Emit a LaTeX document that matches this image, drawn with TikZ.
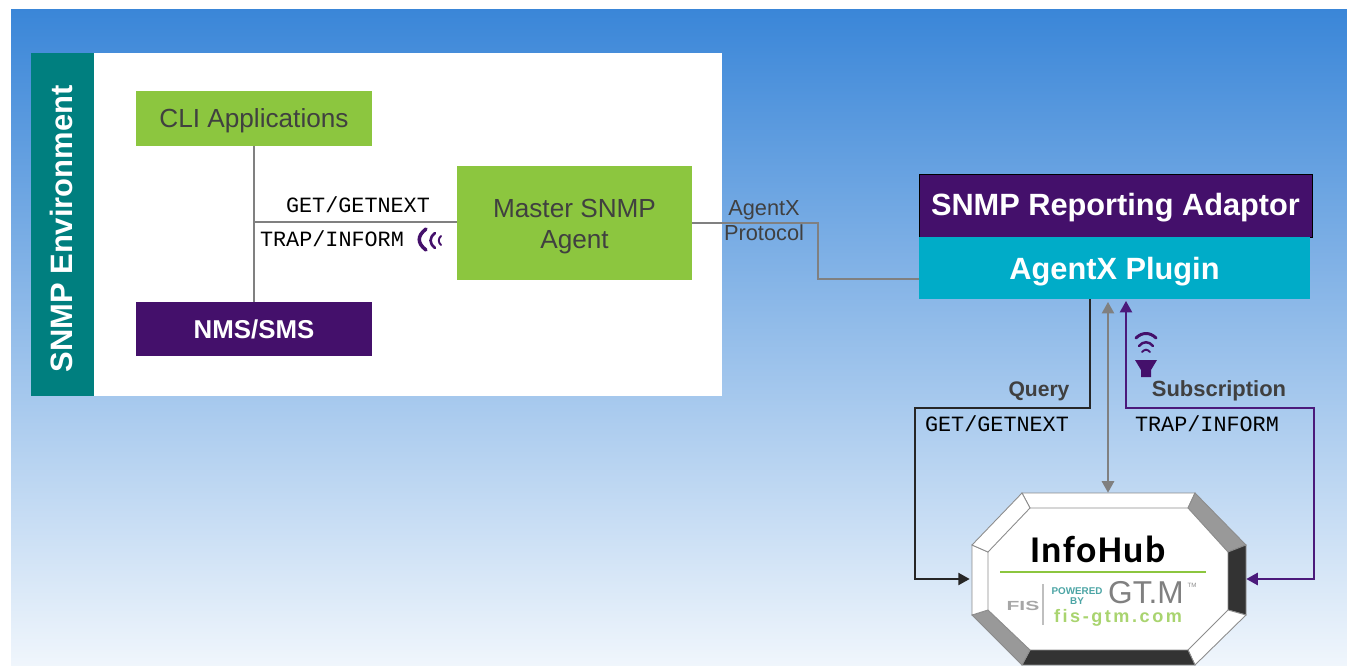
\documentclass[tikz,border=0pt]{standalone}
\usepackage{fontspec}
\setmainfont{Liberation Sans}
\setmonofont{Liberation Mono}
\newfontfamily\hubfont{Carlito}
\usetikzlibrary{calc,positioning,shapes,arrows.meta}
\definecolor{skytop}{HTML}{3A86D8}
\definecolor{skybot}{HTML}{F0F6FC}
\definecolor{envteal}{HTML}{007F7F}
\definecolor{leafgreen}{HTML}{8CC63F}
\definecolor{deeppurple}{HTML}{44106B}
\definecolor{plugcyan}{HTML}{00ACC8}
\definecolor{wirepurple}{HTML}{4B1A7B}

\begin{document}
\begin{tikzpicture}[x=0.02cm,y=-0.02cm,>={Triangle[length=6.5pt,width=7pt]},
	box/.style={rectangle,inner sep=0pt,align=center},
	boxlabel/.style={box,text=black!75,font=\fontsize{14.9}{17.6}\selectfont},
	boldlabel/.style={box,text=white,font=\bfseries\fontsize{15}{18}\selectfont},
	monolabel/.style={inner sep=0pt,font=\ttfamily\fontsize{12.4}{14}\selectfont},
	wirelabel/.style={inner sep=0pt,text=black!75,font=\fontsize{12.4}{14.5}\selectfont,align=center},
	wave/.style={draw=deeppurple,line cap=round,fill=none}
	]

	\useasboundingbox (0,0) rectangle (1347,666);
	\fill[white] (0,0) rectangle (1347,666);
	\shade[top color=skytop,bottom color=skybot] (11,9) rectangle (1347,666);

	% SNMP side
	\node[box,fill=white,minimum width=12.56cm,minimum height=6.86cm] (panel) at (408,224.5) {};
	\node[box,fill=envteal,minimum width=1.26cm,minimum height=6.86cm] (env) at (62.5,224.5) {};
	\node[boldlabel,rotate=90,font=\bfseries\fontsize{17.6}{20}\selectfont] (envtext) at (61,229) {SNMP Environment};

	\node[boxlabel,fill=leafgreen,minimum width=4.72cm,minimum height=1.1cm,text height=10.8pt,text depth=0pt] (cli) at (254,118.5) {CLI Applications};
	\node[boldlabel,fill=deeppurple,minimum width=4.72cm,minimum height=1.08cm,font=\bfseries\fontsize{14.7}{17}\selectfont] (nms) at (254,329) {NMS/SMS};
	\node[boxlabel,fill=leafgreen,minimum width=4.7cm,minimum height=2.28cm] (master) at (574.5,223) {\rule{0pt}{14.2pt}Master SNMP\\Agent};

	% adaptor
	\node[boldlabel,fill=deeppurple,draw=black,minimum width=7.86cm,minimum height=1.26cm,text height=11pt,text depth=0pt,font=\bfseries\fontsize{17.5}{20}\selectfont] (adaptor) at (1115.5,205.5) {SNMP Reporting Adaptor};
	\node[boldlabel,fill=plugcyan,minimum width=7.82cm,minimum height=1.24cm,text height=12.6pt,text depth=0pt,font=\bfseries\fontsize{17.5}{20}\selectfont] (plugin) at (1114.5,268) {AgentX Plugin};

	% hub
	\node[box,minimum width=5.52cm,minimum height=3.44cm] (hub) at (1108,579) {};
	\fill[white] (1022,493) -- (1195,493) -- (1246,545) -- (1246,615) -- (1195,665) -- (1022,665) -- (972,615) -- (972,545) -- cycle;
	\foreach \ax/\ay/\bx/\by/\cx/\cy/\dx/\dy/\col in {
		1022/493/1195/493/1188/508/1030/508/white,
		1195/493/1246/545/1228/552/1188/508/black!40,
		1246/545/1246/615/1228/610/1228/552/black!80,
		1246/615/1195/665/1188/650/1228/610/white,
		1195/665/1022/665/1030/650/1188/650/black!80,
		1022/665/972/615/988/610/1030/650/black!40,
		972/615/972/545/988/552/988/610/white,
		972/545/1022/493/1030/508/988/552/white}
	{
		\filldraw[fill=\col,draw=black!45,line width=0.5pt] (\ax,\ay) -- (\bx,\by) -- (\cx,\cy) -- (\dx,\dy) -- cycle;
	}
	\node[inner sep=0pt,font=\hubfont\bfseries\fontsize{21.5}{23}\selectfont\addfontfeature{LetterSpace=4}] (hubname) at (1098,549) {InfoHub};
	\draw[leafgreen,line width=0.8pt] (1000,572) -- (1206,572);
	\node[inner sep=0pt,text=black!35,xscale=1.6,font=\bfseries\fontsize{7.5}{8}\selectfont] (fis) at (1023,606) {FIS};
	\draw[black!25,line width=0.6pt] (1043,584) -- (1043,625);
	\node[inner sep=0pt,text=envteal!70,align=center,font=\bfseries\fontsize{5.6}{5.8}\selectfont] (powered) at (1077,596) {POWERED\\BY};
	\node[inner sep=0pt,text=black!50,font=\fontsize{18}{19}\selectfont] (gtm) at (1146,593) {GT.M};
	\node[inner sep=0pt,text=black!45,font=\fontsize{3.5}{4}\selectfont] (tm) at (1192,585) {TM};
	\node[inner sep=0pt,text=leafgreen!75,font=\bfseries\fontsize{10.3}{11}\selectfont\addfontfeature{LetterSpace=14}] (fisgtm) at (1118,618) {fis-gtm.com};

	% connectors
	\coordinate (tee) at (254,222);
	\coordinate (agtb) at (818,279);
	\coordinate (plgw) at (919,279);
	\coordinate (qrytop) at (1090,299);
	\coordinate (qryleft) at (915,408);
	\coordinate (subright) at (1314,408);
	\coordinate (subtop) at (1126,301);
	\coordinate (greytop) at (1108,302);

	\draw[black!50,line width=0.8pt] (cli.south) -- (nms.north);
	\draw[black!50,line width=0.8pt] (tee) -- (tee -| master.west);
	\draw[black!50,line width=0.8pt] (master.east) -| (agtb) -- (plgw);
	\draw[->,black!85,line width=0.9pt] (qrytop) |- (qryleft) |- (hub.west);
	\draw[<->,black!50,line width=0.9pt] (hub.north) -- (greytop);
	\draw[<->,wirepurple,line width=0.9pt] (hub.east) -| (subright) -| (subtop);

	% labels
	\node[monolabel] (getl) at (358,205) {GET/GETNEXT};
	\node[monolabel] (trapl) at (332,239) {TRAP/INFORM};
	\node[wirelabel] (agentx) at (764,220.5) {AgentX\\Protocol};
	\node[wirelabel,font=\bfseries\fontsize{12}{14}\selectfont] (query) at (1039,391) {Query};
	\node[monolabel] (getr) at (997,424) {GET/GETNEXT};
	\node[wirelabel,font=\bfseries\fontsize{12.5}{14}\selectfont] (subs) at (1219,391) {Subscription};
	\node[monolabel] (trapr) at (1207,424) {TRAP/INFORM};

	% signal marks
	\draw[wave,line width=2pt] (426,229) .. controls (417,236) and (417,243) .. (426,250);
	\draw[wave,line width=1.5pt] (435,233) .. controls (429,238) and (429,243) .. (435,248);
	\draw[wave,line width=1.1pt] (441,236) .. controls (438,239) and (438,242) .. (441,245);

	\draw[wave,line width=1.7pt] (1136,338) .. controls (1142,332) and (1150,332) .. (1156,338);
	\draw[wave,line width=1.4pt] (1139,346) .. controls (1143,341) and (1149,341) .. (1153,346);
	\draw[wave,line width=1.1pt] (1142,352) .. controls (1145,349) and (1147,349) .. (1150,352);
	\fill[deeppurple] (1135,360) -- (1157,360) -- (1151,370) -- (1151,377) -- (1141,377) -- (1141,370) -- cycle;

\end{tikzpicture}
\end{document}
